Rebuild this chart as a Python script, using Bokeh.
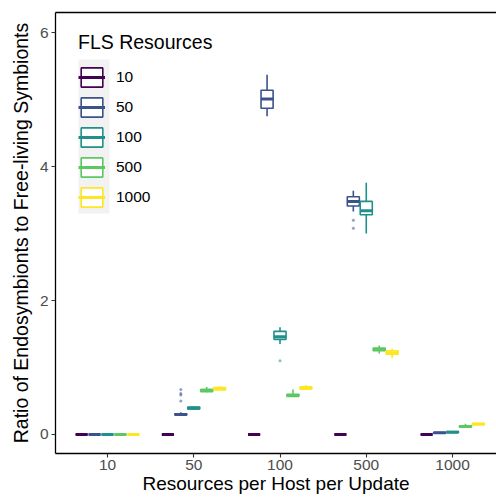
from bokeh.plotting import figure
from bokeh.models import (ColumnDataSource, FixedTicker, LinearAxis, Range1d,
                          Legend, LegendItem, BoxAnnotation)
from bokeh.embed import file_html
from bokeh.resources import INLINE

# ---- data -------------------------------------------------------------
host_resources = ["10", "50", "100", "500", "1000"]      # x categories
fls_levels = ["10", "50", "100", "500", "1000"]          # series
colors = ["#440154", "#3B528B", "#21908C", "#5DC863", "#FDE725"]

# rows: FLS level (10, 50, 100, 500, 1000); columns: host resources (10..1000)
whisker_low = [
    [0, 0, 0, 0, 0],
    [0, 0.28, 4.75, 3.33, 0.02],
    [0, 0.37, 1.35, 3.00, 0.03],
    [0, 0.63, 0.56, 1.21, 0.10],
    [0, 0.66, 0.67, 1.14, 0.14],
]
q1 = [
    [0, 0, 0, 0, 0],
    [0, 0.29, 4.87, 3.41, 0.02],
    [0, 0.38, 1.42, 3.28, 0.03],
    [0, 0.64, 0.57, 1.25, 0.11],
    [0, 0.67, 0.68, 1.20, 0.145],
]
median = [
    [0, 0, 0, 0, 0],
    [0, 0.30, 5.01, 3.48, 0.025],
    [0, 0.39, 1.46, 3.34, 0.035],
    [0, 0.66, 0.58, 1.27, 0.12],
    [0, 0.68, 0.69, 1.22, 0.155],
]
q3 = [
    [0, 0, 0, 0, 0],
    [0, 0.31, 5.14, 3.55, 0.03],
    [0, 0.41, 1.54, 3.48, 0.045],
    [0, 0.67, 0.60, 1.29, 0.13],
    [0, 0.70, 0.71, 1.25, 0.165],
]
whisker_high = [
    [0, 0, 0, 0, 0],
    [0, 0.33, 5.37, 3.64, 0.03],
    [0, 0.42, 1.60, 3.76, 0.045],
    [0, 0.71, 0.67, 1.33, 0.16],
    [0, 0.72, 0.74, 1.28, 0.17],
]
# outliers: (host resource index, FLS index, value)
outlier_host = [1, 1, 1, 1, 2, 3, 3]
outlier_fls = [1, 1, 1, 1, 2, 1, 1]
outlier_value = [0.50, 0.59, 0.61, 0.67, 1.10, 3.20, 3.08]

y_ticks = [0, 2, 4, 6]

# ---- layout constants ---------------------------------------------------
DODGE = 0.15
BOX_W = 0.14
FONT = "Liberation Sans"

p = figure(width=496, height=502, output_backend="svg", toolbar_location=None,
           x_range=Range1d(0.397, 5.51), y_range=Range1d(-0.284, 6.30),
           min_border_left=55, min_border_right=0, min_border_top=12,
           min_border_bottom=49, outline_line_color=None,
           background_fill_color="white", border_fill_color="white")
p.grid.visible = False

box_renderers = []
med_renderers = []
for s, lvl in enumerate(fls_levels):
    xs = [g + 1 + (s - 2) * DODGE for g in range(len(host_resources))]
    src = ColumnDataSource(dict(
        x=xs,
        x0=[x - BOX_W / 2 for x in xs],
        x1=[x + BOX_W / 2 for x in xs],
        lo=whisker_low[s], q1=q1[s], med=median[s], q3=q3[s], hi=whisker_high[s],
    ))
    c = colors[s]
    p.segment(x0="x", x1="x", y0="lo", y1="q1", source=src, line_color=c, line_width=1.6)
    p.segment(x0="x", x1="x", y0="q3", y1="hi", source=src, line_color=c, line_width=1.6)
    br = p.vbar(x="x", width=BOX_W, bottom="q1", top="q3", source=src,
                fill_color="white", line_color=c, line_width=1.6)
    mr = p.segment(x0="x0", x1="x1", y0="med", y1="med", source=src,
                   line_color=c, line_width=3)
    box_renderers.append(br)
    med_renderers.append(mr)

out_src = ColumnDataSource(dict(
    x=[h + 1 + (f - 2) * DODGE for h, f in zip(outlier_host, outlier_fls)],
    y=outlier_value,
    c=[colors[f] for f in outlier_fls],
))
p.scatter(x="x", y="y", source=out_src, size=3, color="c", alpha=0.55, line_width=0)

# ---- axes ---------------------------------------------------------------
xa = p.xaxis[0]
xa.ticker = FixedTicker(ticks=[i + 1 for i in range(len(host_resources))])
xa.major_label_overrides = {i + 1: lab for i, lab in enumerate(host_resources)}
xa.axis_label = "Resources per Host per Update"

ya = p.yaxis[0]
ya.ticker = FixedTicker(ticks=y_ticks)
ya.axis_label = "Ratio of Endosymbionts to Free-living Symbionts"

for ax in (xa, ya):
    ax.minor_tick_line_color = None
    ax.major_tick_in = 0
    ax.major_tick_out = 4
    ax.major_tick_line_color = "#333333"
    ax.major_tick_line_width = 1.1
    ax.axis_line_color = "black"
    ax.axis_line_width = 1.3
    ax.major_label_text_font = FONT
    ax.major_label_text_font_size = "15.5px"
    ax.major_label_text_color = "#4D4D4D"
    ax.axis_label_text_font = FONT
    ax.axis_label_text_font_style = "normal"
    ax.axis_label_text_color = "black"
xa.axis_label_text_font_size = "19px"
ya.axis_label_text_font_size = "19.5px"
xa.major_label_standoff = 2
xa.axis_label_standoff = 0
ya.major_label_standoff = 3
ya.axis_label_standoff = 5

top = LinearAxis(ticker=FixedTicker(ticks=[]), major_tick_out=0, major_tick_in=0,
                 minor_tick_out=0, minor_tick_in=0, major_label_standoff=0,
                 axis_line_color="black", axis_line_width=1.3)
p.add_layout(top, "above")

# ---- legend -------------------------------------------------------------
key_bg = BoxAnnotation(left=23, right=54, top=394, bottom=240,
                       left_units="screen", right_units="screen",
                       top_units="screen", bottom_units="screen",
                       fill_color="#F2F2F2", fill_alpha=1, line_color=None)
p.add_layout(key_bg)

items = [LegendItem(label=lvl, renderers=[box_renderers[i], med_renderers[i]])
         for i, lvl in enumerate(fls_levels)]
legend = Legend(items=items, location=(23, 244), title="FLS Resources",
                title_text_font=FONT, title_text_font_size="19.5px",
                title_text_font_style="normal", title_text_color="black",
                title_standoff=11,
                label_text_font=FONT, label_text_font_size="15.5px",
                label_text_color="black",
                glyph_width=27, glyph_height=24, label_height=24, spacing=6,
                padding=5, margin=0, label_standoff=11,
                background_fill_alpha=0, border_line_color=None)
p.add_layout(legend)

open("out.html", "w").write(file_html(p, INLINE))
